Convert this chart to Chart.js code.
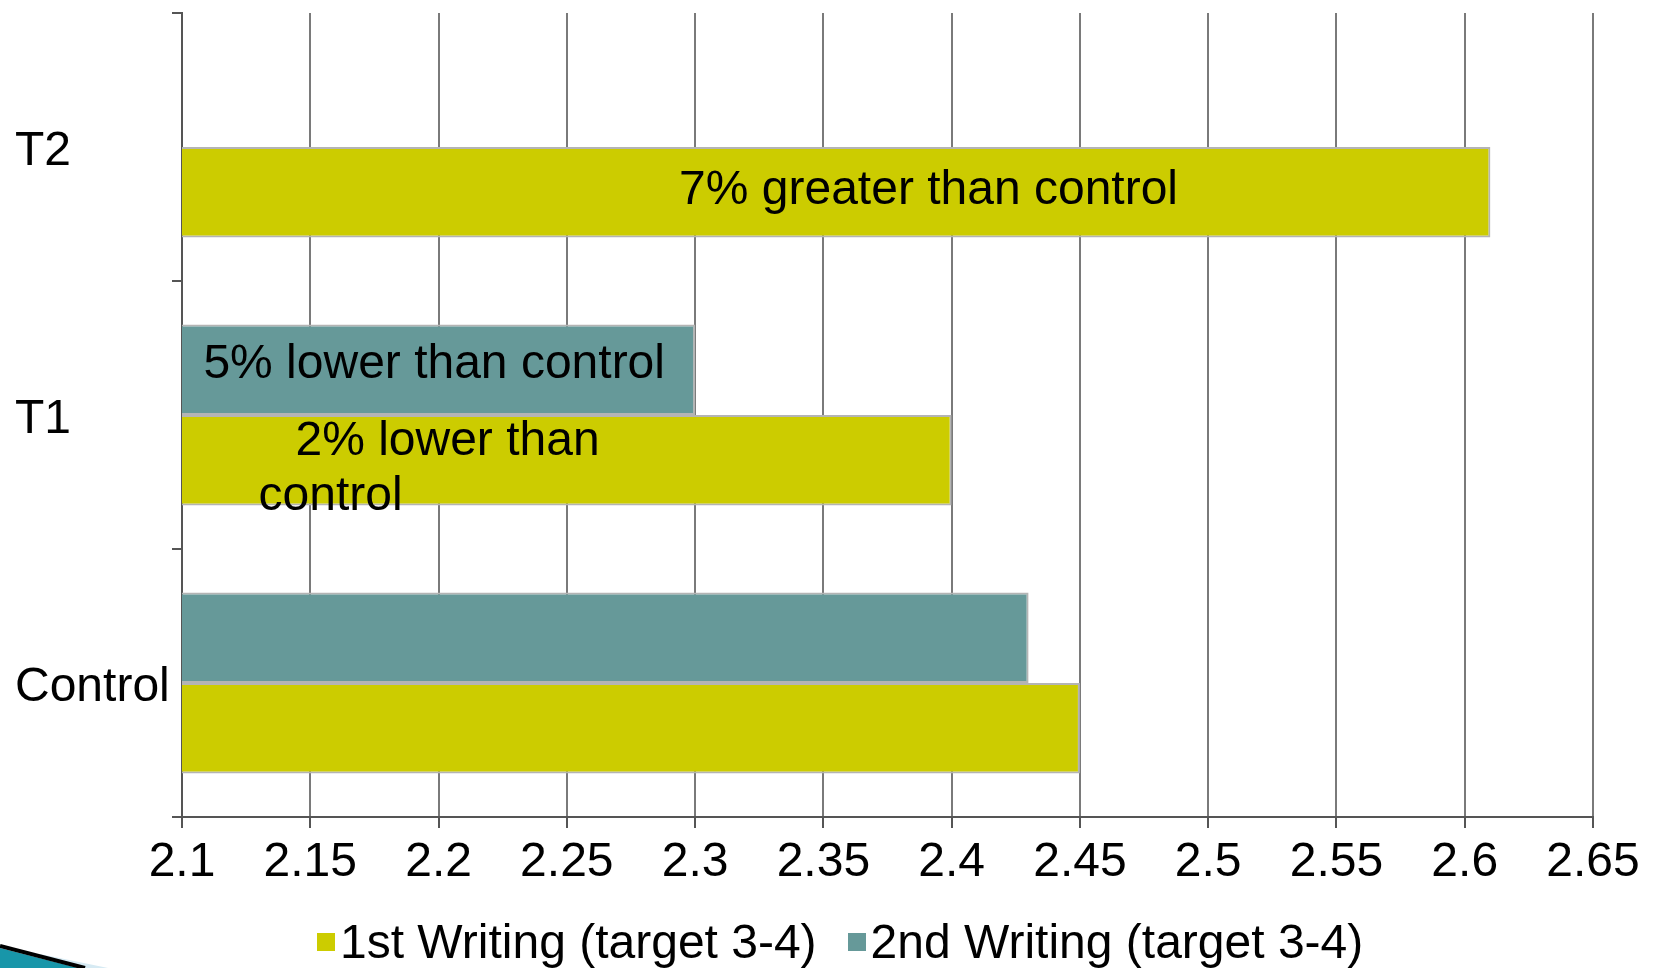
<!DOCTYPE html>
<html>
<head>
<meta charset="utf-8">
<script src="https://cdn.jsdelivr.net/npm/chart.js@4.4.1/dist/chart.umd.min.js"></script>
<style>
  html, body { margin: 0; padding: 0; background: #fff; }
  #wrap { position: relative; width: 1653px; height: 968px; }
  #legend {
    position: absolute; left: 317px; top: 914px;
    font: 48px "Liberation Sans", Arial, sans-serif; color: #000;
    display: flex; align-items: center; white-space: nowrap; line-height: 56px;
  }
  #legend .item { display: flex; align-items: center; margin-right: 31px; }
  #legend .box { width: 18px; height: 18px; margin-right: 5px; }
</style>
</head>
<body>
<div id="wrap">
  <canvas id="chart" width="1653" height="968"></canvas>
  <div id="legend"></div>
</div>
<script>
// datos
const categorias = ['T2', 'T1', 'Control'];
const segundaEscritura = [null, 2.30, 2.43];
const primeraEscritura = [2.61, 2.40, 2.45];
const nombreSerie1 = '1st Writing (target 3-4)';
const nombreSerie2 = '2nd Writing (target 3-4)';
const ticksX = [2.1, 2.15, 2.2, 2.25, 2.3, 2.35, 2.4, 2.45, 2.5, 2.55, 2.6, 2.65];

const AMARILLO = '#cccc00';
const VERDE = '#669999';
const FUENTE = '"Liberation Sans", Arial, sans-serif';

// textos sobre las barras (dataset, indice, centro x en valor, desplazamiento y)
const notas = [
  { texto: '7% greater than control', ds: 1, i: 0, x: 2.391, dy: -1 },
  { texto: '5% lower than control', ds: 0, i: 1, x: 2.1983, dy: -5 },
  { texto: '2% lower than', ds: 1, i: 1, x: 2.2035, dy: -18 },
  { texto: 'control', ds: 1, i: 1, x: 2.1579, dy: 37 }
];

const notasPlugin = {
  id: 'notas',
  afterDatasetsDraw(chart) {
    const ctx = chart.ctx;
    const xScale = chart.scales.x;
    ctx.save();
    ctx.font = '48px ' + FUENTE;
    ctx.fillStyle = '#000';
    ctx.textAlign = 'center';
    ctx.textBaseline = 'middle';
    notas.forEach(n => {
      const bar = chart.getDatasetMeta(n.ds).data[n.i];
      ctx.fillText(n.texto, xScale.getPixelForValue(n.x), bar.y + n.dy);
    });
    ctx.restore();
  }
};

// adorno de la diapositiva, esquina inferior izquierda
const adornoPlugin = {
  id: 'adorno',
  afterDraw(chart) {
    const ctx = chart.ctx;
    ctx.save();
    ctx.fillStyle = '#d6eaf3';
    ctx.beginPath();
    ctx.moveTo(40, 954); ctx.lineTo(108, 968); ctx.lineTo(55, 968); ctx.closePath();
    ctx.fill();
    ctx.fillStyle = '#1896a9';
    ctx.beginPath();
    ctx.moveTo(0, 948); ctx.lineTo(78, 968); ctx.lineTo(0, 968); ctx.closePath();
    ctx.fill();
    ctx.strokeStyle = '#000';
    ctx.lineWidth = 4;
    ctx.beginPath();
    ctx.moveTo(0, 946); ctx.lineTo(85, 968);
    ctx.stroke();
    ctx.restore();
  }
};

const chart = new Chart(document.getElementById('chart'), {
  type: 'bar',
  data: {
    labels: categorias,
    datasets: [
      {
        label: nombreSerie2,
        data: segundaEscritura,
        backgroundColor: VERDE,
        borderColor: '#b4b4b4',
        borderWidth: 2,
        borderSkipped: false,
        categoryPercentage: 0.675,
        barPercentage: 1
      },
      {
        label: nombreSerie1,
        data: primeraEscritura,
        backgroundColor: AMARILLO,
        borderColor: '#b4b4b4',
        borderWidth: 2,
        borderSkipped: false,
        categoryPercentage: 0.675,
        barPercentage: 1
      }
    ]
  },
  options: {
    indexAxis: 'y',
    responsive: false,
    animation: false,
    layout: { padding: { left: 15, right: 60, top: 13, bottom: 0 } },
    plugins: {
      legend: { display: false },
      tooltip: { enabled: false }
    },
    scales: {
      x: {
        min: 2.1,
        max: 2.65,
        afterBuildTicks: axis => { axis.ticks = ticksX.map(v => ({ value: v })); },
        afterFit: axis => { axis.height = 968 - 817; },
        grid: { color: '#7a7a7a', lineWidth: 2, tickLength: 11, tickColor: '#555' },
        border: { color: '#555', width: 2 },
        ticks: {
          color: '#000',
          padding: 6,
          font: { family: FUENTE, size: 48 },
          callback: v => String(v)
        }
      },
      y: {
        afterFit: axis => {
          axis.width = 182 - 15;
          axis.paddingTop = 0;
          axis.paddingBottom = 0;
        },
        grid: { drawOnChartArea: false, offset: true, tickLength: 10, color: '#555', lineWidth: 2 },
        border: { color: '#555', width: 2 },
        ticks: {
          color: '#000',
          crossAlign: 'far',
          labelOffset: 5,
          font: { family: FUENTE, size: 48 }
        }
      }
    }
  },
  plugins: [notasPlugin, adornoPlugin]
});

// leyenda en html
const leyenda = document.getElementById('legend');
[[nombreSerie1, AMARILLO], [nombreSerie2, VERDE]].forEach(([texto, color]) => {
  const item = document.createElement('div');
  item.className = 'item';
  item.innerHTML = `<span class="box" style="background:${color}"></span><span>${texto}</span>`;
  leyenda.appendChild(item);
});
</script>
</body>
</html>
